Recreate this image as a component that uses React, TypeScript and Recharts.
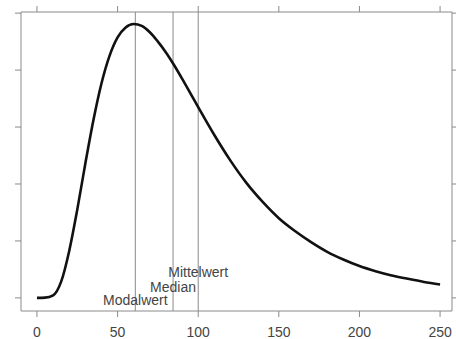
import React from 'react';
import { LineChart, Line, XAxis, YAxis, ReferenceLine, ReferenceDot } from 'recharts';

const xValues = [0, 5, 10, 15, 20, 25, 30, 35, 40, 45, 50, 55, 60, 65, 70, 75, 80, 85, 90, 95, 100, 110, 120, 130, 140, 150, 160, 170, 180, 190, 200, 210, 220, 230, 240, 250];
const densityValues = [0, 0.00001, 0.00009, 0.00057, 0.00165, 0.0031, 0.00472, 0.00624, 0.00753, 0.0085, 0.00915, 0.0095, 0.00962, 0.00955, 0.00933, 0.009, 0.00862, 0.00818, 0.0077, 0.0072, 0.0067, 0.00572, 0.00482, 0.00403, 0.00337, 0.0028, 0.00235, 0.00196, 0.00162, 0.00135, 0.00112, 0.00094, 0.00079, 0.00067, 0.00056, 0.00047];
const xTicks = [0, 50, 100, 150, 200, 250];
const yTicks = [0, 0.002, 0.004, 0.006, 0.008, 0.01];
const markerNames = ['Modalwert', 'Median', 'Mittelwert'];
const markerX = [61, 84.4, 100];
const markerLabelY = [-0.00007, 0.00039, 0.00091];

const data = xValues.map((x, i) => ({ x, y: densityValues[i] }));

const FRAME = '#8a8a8a';
const TEXT = '#444';
const emptyTick = () => <g />;

export default function App() {
  return (
    <div style={{ position: 'absolute', left: 0, top: 0 }}>
      <LineChart
        width={456}
        height={339}
        data={data}
        margin={{ top: 0, right: 0, bottom: 0, left: 0 }}
        style={{ fontFamily: '"Liberation Sans", Arial, sans-serif' }}
      >
        <XAxis
          type="number"
          dataKey="x"
          domain={[-9.9, 257.4]}
          allowDataOverflow
          ticks={xTicks}
          height={28}
          stroke={FRAME}
          tickSize={6}
          tickMargin={10}
          tick={{ fill: TEXT, fontSize: 14 }}
          interval={0}
        />
        <XAxis
          xAxisId="top"
          orientation="top"
          type="number"
          dataKey="x"
          domain={[-9.9, 257.4]}
          allowDataOverflow
          ticks={xTicks}
          height={12}
          stroke={FRAME}
          tickSize={6}
          tick={emptyTick}
          interval={0}
        />
        <YAxis
          type="number"
          domain={[-0.00046, 0.01004]}
          allowDataOverflow
          ticks={yTicks}
          width={21}
          stroke={FRAME}
          tickSize={6}
          tick={emptyTick}
          interval={0}
        />
        <YAxis
          yAxisId="right"
          orientation="right"
          type="number"
          domain={[-0.00046, 0.01004]}
          allowDataOverflow
          ticks={yTicks}
          width={4}
          stroke={FRAME}
          tickSize={4}
          tick={emptyTick}
          interval={0}
        />
        {markerX.map((mx, i) => (
          <ReferenceLine key={'l' + i} x={mx} stroke={FRAME} strokeWidth={1} />
        ))}
        <Line
          type="monotone"
          dataKey="y"
          stroke="#111"
          strokeWidth={2.6}
          dot={false}
          activeDot={false}
          isAnimationActive={false}
        />
        <Line
          xAxisId="top"
          yAxisId="right"
          type="monotone"
          dataKey="y"
          stroke="none"
          dot={false}
          activeDot={false}
          isAnimationActive={false}
        />
        {markerNames.map((name, i) => (
          <ReferenceDot
            key={'d' + i}
            x={markerX[i]}
            y={markerLabelY[i]}
            r={0}
            fill="none"
            stroke="none"
            label={{ value: name, position: 'center', fontSize: 14, fill: TEXT }}
          />
        ))}
      </LineChart>
    </div>
  );
}
